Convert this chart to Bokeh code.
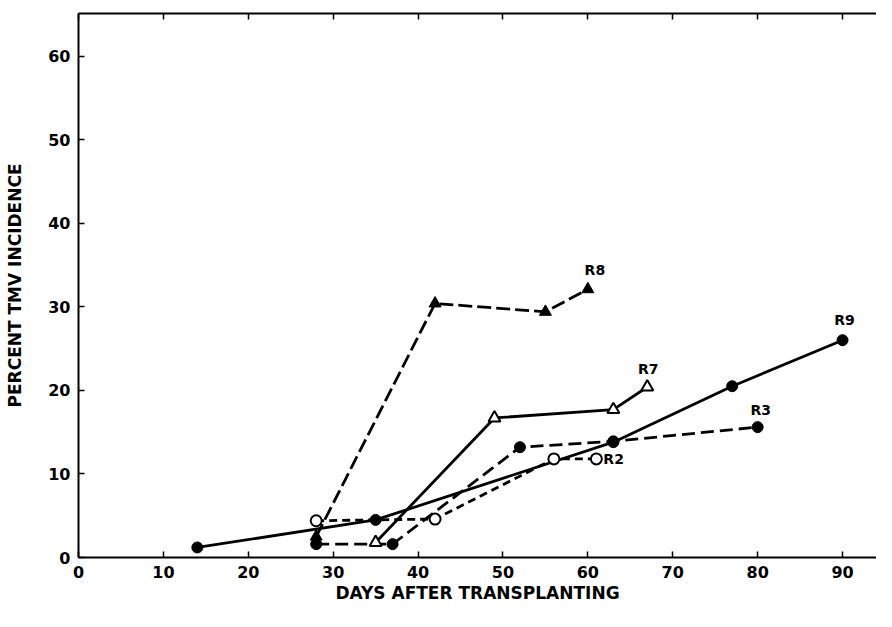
from bokeh.plotting import figure
from bokeh.models import LinearAxis, Label, FixedTicker, Range1d
from bokeh.embed import file_html
from bokeh.resources import INLINE

# ---- data ----
x_ticks = [0, 10, 20, 30, 40, 50, 60, 70, 80, 90]
y_ticks = [0, 10, 20, 30, 40, 50, 60]

days_r9 = [14, 35, 63, 77, 90]
pct_r9 = [1.2, 4.5, 13.8, 20.5, 26.0]

days_r3 = [28, 37, 52, 63, 80]
pct_r3 = [1.6, 1.6, 13.2, 13.9, 15.6]

days_r8 = [28, 42, 55, 60]
pct_r8 = [2.5, 30.4, 29.4, 32.1]

days_r7 = [35, 49, 63, 67]
pct_r7 = [1.8, 16.7, 17.7, 20.4]

days_r2 = [28, 42, 56, 61]
pct_r2 = [4.4, 4.6, 11.8, 11.8]

FONT = "DejaVu Sans"

p = figure(width=876, height=611, output_backend="svg", toolbar_location=None,
           x_range=Range1d(0, 94.0), y_range=Range1d(0, 65.1),
           min_border_left=78, min_border_right=0, min_border_top=13, min_border_bottom=54)
p.outline_line_color = None
p.xgrid.visible = False
p.ygrid.visible = False
p.background_fill_color = "white"
p.border_fill_color = "white"

for ax in (p.xaxis[0], p.yaxis[0]):
    ax.axis_line_width = 2
    ax.axis_line_color = "black"
    ax.major_tick_in = 6
    ax.major_tick_out = 0
    ax.major_tick_line_width = 1.5
    ax.minor_tick_line_color = None
    ax.major_label_text_font = FONT
    ax.major_label_text_font_style = "bold"
    ax.major_label_text_font_size = "16px"
    ax.major_label_text_color = "black"
    ax.axis_label_text_font = FONT
    ax.axis_label_text_font_style = "bold"
    ax.axis_label_text_font_size = "17px"
    ax.axis_label_text_color = "black"

p.xaxis[0].ticker = FixedTicker(ticks=x_ticks)
p.yaxis[0].ticker = FixedTicker(ticks=y_ticks)
p.xaxis[0].axis_label = "DAYS AFTER TRANSPLANTING"
p.yaxis[0].axis_label = "PERCENT TMV INCIDENCE"
p.xaxis[0].major_label_standoff = 8
p.xaxis[0].axis_label_standoff = 2
p.yaxis[0].major_label_standoff = 8
p.yaxis[0].axis_label_standoff = 20

top = LinearAxis(ticker=FixedTicker(ticks=x_ticks))
top.axis_line_width = 2
top.major_tick_in = 6
top.major_tick_out = 0
top.major_tick_line_width = 1.5
top.minor_tick_line_color = None
top.major_label_overrides = {t: "" for t in x_ticks}
top.major_label_standoff = 0
p.add_layout(top, "above")

LW = 2.8
# lines
p.line(days_r9, pct_r9, line_width=LW, line_color="black")
p.line(days_r7, pct_r7, line_width=LW, line_color="black")
p.line(days_r3, pct_r3, line_width=LW, line_color="black", line_dash="13 6")
p.line(days_r8, pct_r8, line_width=LW, line_color="black", line_dash="14 5")
p.line(days_r2, pct_r2, line_width=LW, line_color="black", line_dash="8 5")

# markers
p.scatter(days_r9, pct_r9, marker="circle", size=11, fill_color="black", line_color="black")
p.scatter(days_r3, pct_r3, marker="circle", size=11, fill_color="black", line_color="black")
p.scatter(days_r8, pct_r8, marker="triangle", size=12, fill_color="black", line_color="black")
p.scatter(days_r7, pct_r7, marker="triangle", size=12, fill_color="white", line_color="black", line_width=2)
p.scatter(days_r2, pct_r2, marker="circle", size=11, fill_color="white", line_color="black", line_width=2)

def lab(txt, x, y, dx, dy, align="center", base="bottom"):
    p.add_layout(Label(x=x, y=y, x_offset=dx, y_offset=dy, text=txt,
                       text_font=FONT, text_font_style="bold", text_font_size="14px",
                       text_align=align, text_baseline=base, text_color="black"))

lab("R8", days_r8[-1], pct_r8[-1], 7, 11)
lab("R7", days_r7[-1], pct_r7[-1], 1, 10)
lab("R9", days_r9[-1], pct_r9[-1], 2, 12)
lab("R3", days_r3[-1], pct_r3[-1], 3, 9)
lab("R2", days_r2[-1], pct_r2[-1], 7, 0, align="left", base="middle")

open("out.html", "w").write(file_html(p, INLINE))
